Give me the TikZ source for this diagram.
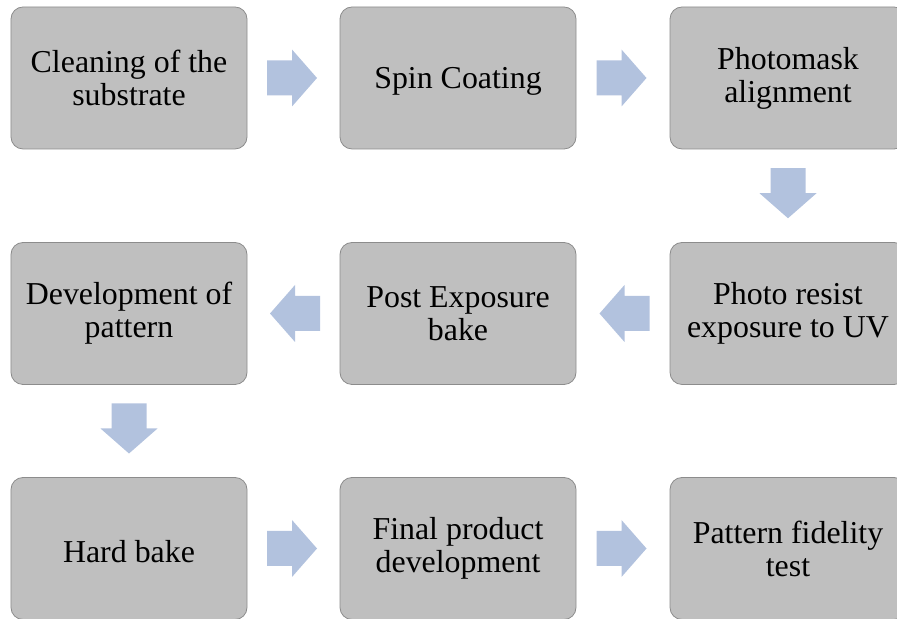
\documentclass[tikz,border=0pt]{standalone}
\usepackage{fontspec}
\setmainfont{Liberation Serif}
\usetikzlibrary{calc}
\definecolor{boxfill}{RGB}{191,191,191}
\definecolor{boxline}{RGB}{140,140,140}
\definecolor{arrfill}{RGB}{178,194,222}
\tikzset{
  stepbox/.style={draw=boxline, line width=0.8bp, fill=boxfill, rounded corners=12bp,
    minimum width=236bp, minimum height=142bp, inner sep=0pt},
  steptext/.style={inner sep=0pt, align=center,
    font=\fontsize{32}{33}\selectfont, text=black},
  blockarr/.style={fill=arrfill, draw=none}
}
\newcommand{\blockarrow}[2]{%
  \fill[blockarr, shift={(#1)}, rotate=#2]
    (-25,-17.5) -- (0,-17.5) -- (0,-28.5) -- (25,0) -- (0,28.5) -- (0,17.5) -- (-25,17.5) -- cycle;}
% #1 name, #2 box, #3 vertical shift, #4 text
\newcommand{\steplabel}[4]{%
  \node[steptext] (#1) at ([yshift=#3]#2.center) {#4};}
\begin{document}
\begin{tikzpicture}[x=1bp,y=1bp]
\useasboundingbox (0,0) rectangle (897,619);
\clip (0,0) rectangle (897,619);
% row 1
\node[stepbox] (b1) at (129,541) {};
\node[stepbox] (b2) at (458,541) {};
\node[stepbox] (b3) at (788,541) {};
% row 2
\node[stepbox] (b4) at (788,305.5) {};
\node[stepbox] (b5) at (458,305.5) {};
\node[stepbox] (b6) at (129,305.5) {};
% row 3
\node[stepbox] (b7) at (129,70.5) {};
\node[stepbox] (b8) at (458,70.5) {};
\node[stepbox] (b9) at (788,70.5) {};
% texts
\steplabel{t1}{b1}{0bp}{Cleaning of the\\substrate}
\steplabel{t2}{b2}{-3.5bp}{Spin Coating}
\steplabel{t3}{b3}{0bp}{Photomask\\alignment}
\steplabel{t4}{b4}{0bp}{Photo resist\\exposure to UV}
\steplabel{t5}{b5}{0bp}{Post Exposure\\bake}
\steplabel{t6}{b6}{0bp}{Development of\\pattern}
\steplabel{t7}{b7}{-3.5bp}{Hard bake}
\steplabel{t8}{b8}{0bp}{Final product\\development}
\steplabel{t9}{b9}{0bp}{Pattern fidelity\\test}
% arrows
\coordinate (a12) at ($(b1.east)!0.5!(b2.west)+(-1.5,0)$);
\coordinate (a23) at ($(b2.east)!0.5!(b3.west)+(-1.5,0)$);
\coordinate (a34) at ($(b3.south)!0.5!(b4.north)+(0,2.5)$);
\coordinate (a45) at ($(b4.west)!0.5!(b5.east)+(1.5,0)$);
\coordinate (a56) at ($(b5.west)!0.5!(b6.east)+(1.5,0)$);
\coordinate (a67) at ($(b6.south)!0.5!(b7.north)+(0,2.5)$);
\coordinate (a78) at ($(b7.east)!0.5!(b8.west)+(-1.5,0)$);
\coordinate (a89) at ($(b8.east)!0.5!(b9.west)+(-1.5,0)$);
\blockarrow{a12}{0}
\blockarrow{a23}{0}
\blockarrow{a34}{-90}
\blockarrow{a45}{180}
\blockarrow{a56}{180}
\blockarrow{a67}{-90}
\blockarrow{a78}{0}
\blockarrow{a89}{0}
\end{tikzpicture}
\end{document}
